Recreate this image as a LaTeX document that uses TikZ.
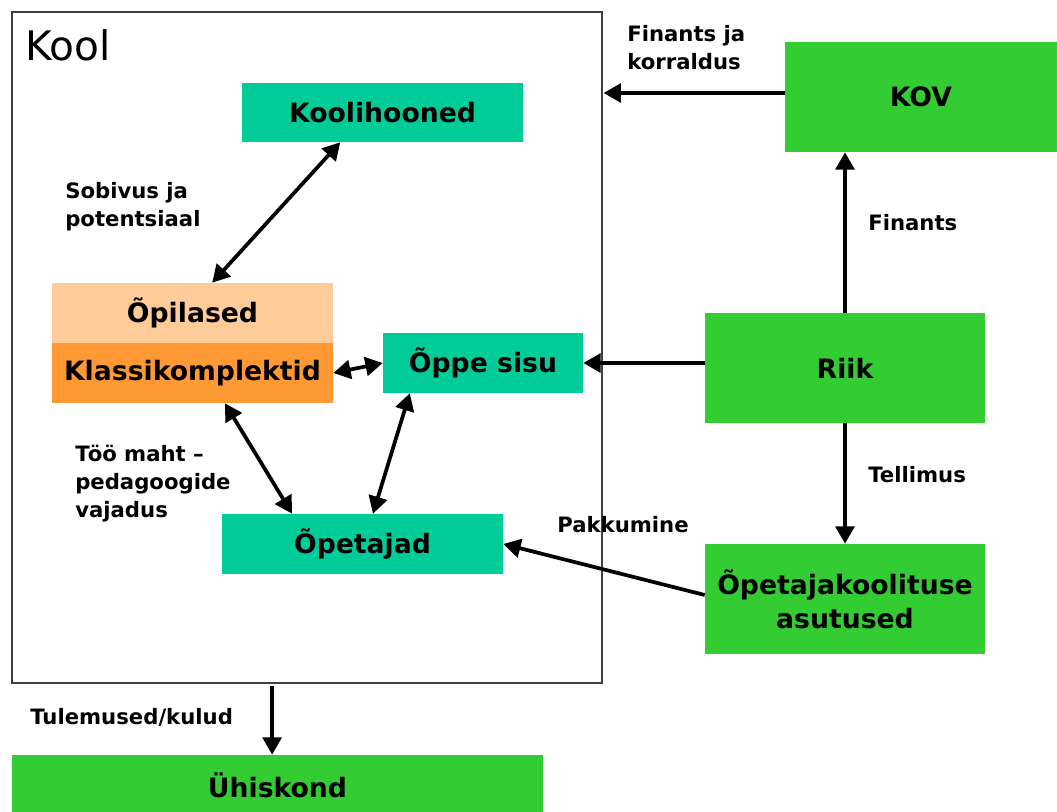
\documentclass[tikz,border=0pt]{standalone}
\usepackage{fontspec}
\setmainfont{DejaVu Sans}
\usetikzlibrary{arrows.meta,calc}
\definecolor{teal}{HTML}{00CC99}
\definecolor{grn}{HTML}{33CC33}
\definecolor{lorange}{HTML}{FFCC99}
\definecolor{dorange}{HTML}{FF9933}
\begin{document}
\begin{tikzpicture}[x=0.75pt,y=-0.75pt,
  box/.style={inner sep=0pt,align=center,font=\fontsize{20pt}{25.5pt}\selectfont\bfseries},
  lbl/.style={inner sep=0pt,anchor=west,align=left,font=\fontsize{15.9pt}{21pt}\selectfont\bfseries},
  arr/.style={line width=2.8pt,-{Triangle[length=13pt,width=14pt]}},
  darr/.style={line width=2.8pt,{Triangle[length=13pt,width=14pt]}-{Triangle[length=13pt,width=14pt]}}]
\useasboundingbox (0,0) rectangle (1057,812);
\fill[white] (0,0) rectangle (1057,812);
\node[draw=black!75,line width=0.9pt,minimum width=442.5pt,minimum height=503.25pt,inner sep=0pt] (kool) at (307,347.5) {};
\node[inner sep=0pt,anchor=west,font=\fontsize{30.5pt}{34pt}\selectfont] (koolt) at (25,45) {Kool};
\node[box,fill=teal,minimum width=210.75pt,minimum height=44.25pt] (koolih) at (382.5,112.5) {Koolihooned};
\node[box,fill=lorange,minimum width=210.75pt,minimum height=45pt] (opil) at (192.5,313) {Õpilased};
\node[box,fill=dorange,minimum width=210.75pt,minimum height=45pt] (klass) at (192.5,373) {Klassikomplektid};
\node[box,fill=teal,minimum width=150pt,minimum height=45pt] (oppe) at (483,363) {Õppe sisu};
\node[box,fill=teal,minimum width=210.75pt,minimum height=45pt] (opet) at (362.5,544) {Õpetajad};
\node[box,fill=grn,minimum width=204pt,minimum height=82.5pt] (kov) at (921,97) {KOV};
\node[box,fill=grn,minimum width=210pt,minimum height=82.5pt] (riik) at (845,368) {Riik};
\node[box,fill=grn,minimum width=210pt,minimum height=82.5pt] (okool) at (845,599) {Õpetajakoolituse\\asutused};
\node[box,fill=grn,minimum width=398.25pt,minimum height=45pt] (uhis) at (277.5,785) {Ühiskond};

\node[lbl] (l1) at (627,48) {Finants ja\\korraldus};
\node[lbl] (l2) at (65,207) {Sobivus ja\\potentsiaal};
\node[lbl] (l3) at (868,223) {Finants};
\node[lbl] (l4) at (868,475) {Tellimus};
\node[lbl] (l5) at (557,525) {Pakkumine};
\node[lbl] (l6) at (75,484) {Töö maht –\\pedagoogide\\vajadus};
\node[lbl] (l7) at (30,717) {Tulemused/kulud};

\draw[arr] ($(kov.west)+(0,-4)$) -- ($(kool.east|-kov.west)+(1,-4)$);
\draw[arr] (riik.north) -- (riik.north|-kov.south);
\draw[arr] (riik.west|-oppe.east) -- (oppe.east);
\draw[arr] (riik.south) -- (okool.north);
\draw[arr] ($(okool.west)+(0,-4)$) -- (opet.east);
\draw[darr] ($(koolih.south west)!0.35!(koolih.south east)$) -- ($(opil.north west)!0.57!(opil.north east)$);
\draw[darr] (klass.east) -- (oppe.west);
\draw[darr] ($(klass.south west)!0.615!(klass.south east)$) -- ($(opet.north west)!0.25!(opet.north east)$);
\draw[darr] ($(oppe.south west)!0.135!(oppe.south east)$) -- ($(opet.north west)!0.537!(opet.north east)$);
\coordinate (ks) at ($(kool.south west)!0.441!(kool.south east)+(0,2)$);
\draw[arr] (ks) -- (ks|-uhis.north);
\end{tikzpicture}
\end{document}
